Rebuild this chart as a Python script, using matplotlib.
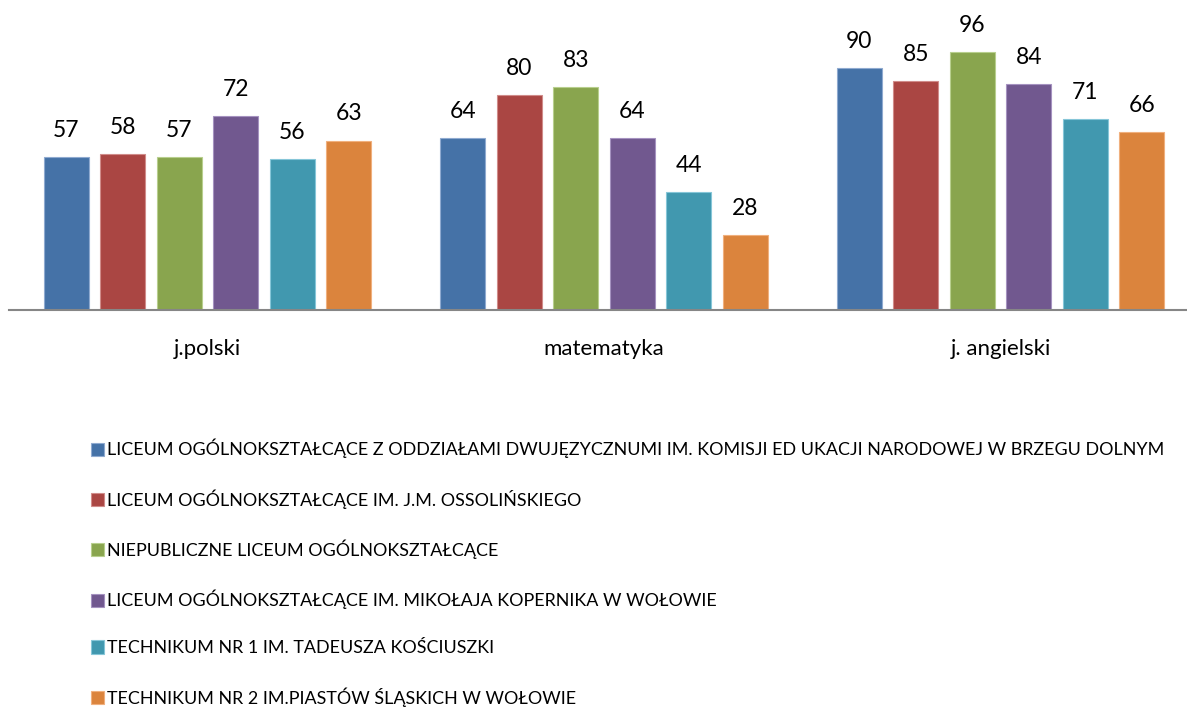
import numpy as np
import matplotlib.pyplot as plt

plt.rcParams["font.family"] = ["Lato", "DejaVu Sans"]

subjects = ["j.polski", "matematyka", "j. angielski"]
schools = [
    "LICEUM OGÓLNOKSZTAŁCĄCE Z ODDZIAŁAMI DWUJĘZYCZNUMI IM. KOMISJI ED UKACJI NARODOWEJ W BRZEGU DOLNYM",
    "LICEUM OGÓLNOKSZTAŁCĄCE IM. J.M. OSSOLIŃSKIEGO",
    "NIEPUBLICZNE LICEUM OGÓLNOKSZTAŁCĄCE",
    "LICEUM OGÓLNOKSZTAŁCĄCE IM. MIKOŁAJA KOPERNIKA W WOŁOWIE",
    "TECHNIKUM NR 1 IM. TADEUSZA KOŚCIUSZKI",
    "TECHNIKUM NR 2 IM.PIASTÓW ŚLĄSKICH W WOŁOWIE",
]
scores = [
    [57, 64, 90],
    [58, 80, 85],
    [57, 83, 96],
    [72, 64, 84],
    [56, 44, 71],
    [63, 28, 66],
]
colors = ["#4572A7", "#AA4643", "#89A54E", "#71588F", "#4198AF", "#DB843D"]
edges = ["#8FAAD0", "#D08C8A", "#B8CF8E", "#A592C0", "#86C6D8", "#F0B07E"]

fig = plt.figure(figsize=(11.87, 7.08), dpi=100)
ax = fig.add_axes([9 / 1187, (708 - 310) / 708, 1 - 9 / 1187, 269 / 708])

x = np.arange(len(subjects))
step = 0.1425
width = 0.1135
for i, (name, vals) in enumerate(zip(schools, scores)):
    pos = x + (i - 2.5) * step
    bars = ax.bar(pos, vals, width, color=colors[i], edgecolor=edges[i],
                  linewidth=0.8, label=name)
    for b, v in zip(bars, vals):
        ax.text(b.get_x() + b.get_width() / 2, v + 6, str(v),
                ha="center", va="bottom", fontsize=16.5, clip_on=False)

ax.set_xlim(-0.5, 2.47)
ax.set_ylim(0, 100)
ax.set_xticks(x)
ax.set_xticklabels(subjects, fontsize=16)
ax.tick_params(axis="x", length=0, pad=21)
ax.set_yticks([])
for s in ["top", "right", "left"]:
    ax.spines[s].set_visible(False)
ax.spines["bottom"].set_color("#868686")
ax.spines["bottom"].set_linewidth(1.5)

fig.legend(loc="upper left", bbox_to_anchor=(91 / 1187, 1 - 439 / 708),
           frameon=False, fontsize=12.9, handlelength=0.75, handleheight=0.75,
           handletextpad=0.15, labelspacing=1.72, borderaxespad=0,
           borderpad=0)

fig.savefig("out.png", dpi=100)
